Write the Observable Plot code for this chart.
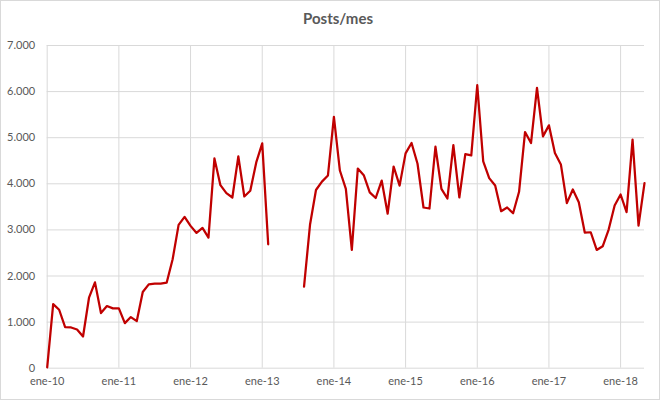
<!DOCTYPE html>
<html>
<head>
<meta charset="utf-8">
<script src="https://cdn.jsdelivr.net/npm/d3@7"></script>
<script src="https://cdn.jsdelivr.net/npm/@observablehq/plot@0.6"></script>
<style>
  html, body { margin: 0; padding: 0; background: #fff; }
  #frame { position: relative; width: 660px; height: 400px; box-sizing: border-box; border: 1px solid #d9d9d9; background: #fff; overflow: hidden; }
  #title { width: 658px; height: 34px; line-height: 34px; box-sizing: border-box; padding-left: 16px; text-align: center;
           font-family: Lato, "Open Sans", sans-serif; font-weight: bold; font-size: 15px; color: #595959; }
</style>
</head>
<body>
<div id="frame">
  <div id="title">Posts/mes</div>
  <div id="chart"></div>
</div>
<script>
// Monthly posts, Jan..Dec per year (null = no data)
const posts2010 = [20, 1390, 1268, 891, 884, 840, 688, 1529, 1862, 1196, 1348, 1297];
const posts2011 = [1297, 978, 1109, 1022, 1652, 1819, 1833, 1833, 1855, 2362, 3109, 3283];
const posts2012 = [3087, 2935, 3043, 2833, 4551, 3971, 3797, 3703, 4594, 3725, 3848, 4464];
const posts2013 = [4877, 2688, null, null, null, null, null, 1768, 3111, 3866, 4048, 4179];
const posts2014 = [5450, 4288, 3888, 2566, 4331, 4186, 3815, 3692, 4070, 3351, 4375, 3961];
const posts2015 = [4660, 4884, 4435, 3486, 3464, 4804, 3891, 3681, 4841, 3703, 4645, 4616];
const posts2016 = [6138, 4486, 4123, 3964, 3406, 3486, 3362, 3826, 5123, 4884, 6080, 5029];
const posts2017 = [5268, 4667, 4420, 3580, 3877, 3601, 2942, 2949, 2565, 2645, 3007, 3529];
const posts2018 = [3768, 3384, 4957, 3094, 4014];

const xTickLabels = ["ene-10", "ene-11", "ene-12", "ene-13", "ene-14", "ene-15", "ene-16", "ene-17", "ene-18"];
const yTicks = [0, 1000, 2000, 3000, 4000, 5000, 6000, 7000];

const values = [posts2010, posts2011, posts2012, posts2013, posts2014, posts2015, posts2016, posts2017, posts2018].flat();
const rows = values.map((v, i) => ({ month: i, posts: v }));
const xTicks = xTickLabels.map((_, k) => k * 12);

const esFmt = d3.formatLocale({ decimal: ",", thousands: ".", grouping: [3], currency: ["", " €"] }).format(",");

const chart = Plot.plot({
  width: 658,
  height: 364,
  marginLeft: 45.7,
  marginRight: 15,
  marginTop: 10,
  marginBottom: 31.3,
  style: { fontFamily: "Lato, 'Open Sans', sans-serif", fontSize: "11px", color: "#595959", background: "transparent" },
  x: { type: "linear", domain: [0, values.length - 1] },
  y: { domain: [0, 7000] },
  marks: [
    Plot.ruleY(yTicks, { stroke: "#d9d9d9", strokeWidth: 1 }),
    Plot.ruleX(xTicks, { stroke: "#d9d9d9", strokeWidth: 1 }),
    Plot.axisY({ ticks: yTicks, tickFormat: esFmt, tickSize: 0, tickPadding: 12, label: null }),
    Plot.axisX({ ticks: xTicks, tickFormat: d => xTickLabels[d / 12], tickSize: 0, tickPadding: 9, label: null }),
    Plot.line(rows, { x: "month", y: "posts", stroke: "#c00000", strokeWidth: 2.25, strokeLinejoin: "round", strokeLinecap: "round" })
  ]
});
document.getElementById("chart").appendChild(chart);
</script>
</body>
</html>
